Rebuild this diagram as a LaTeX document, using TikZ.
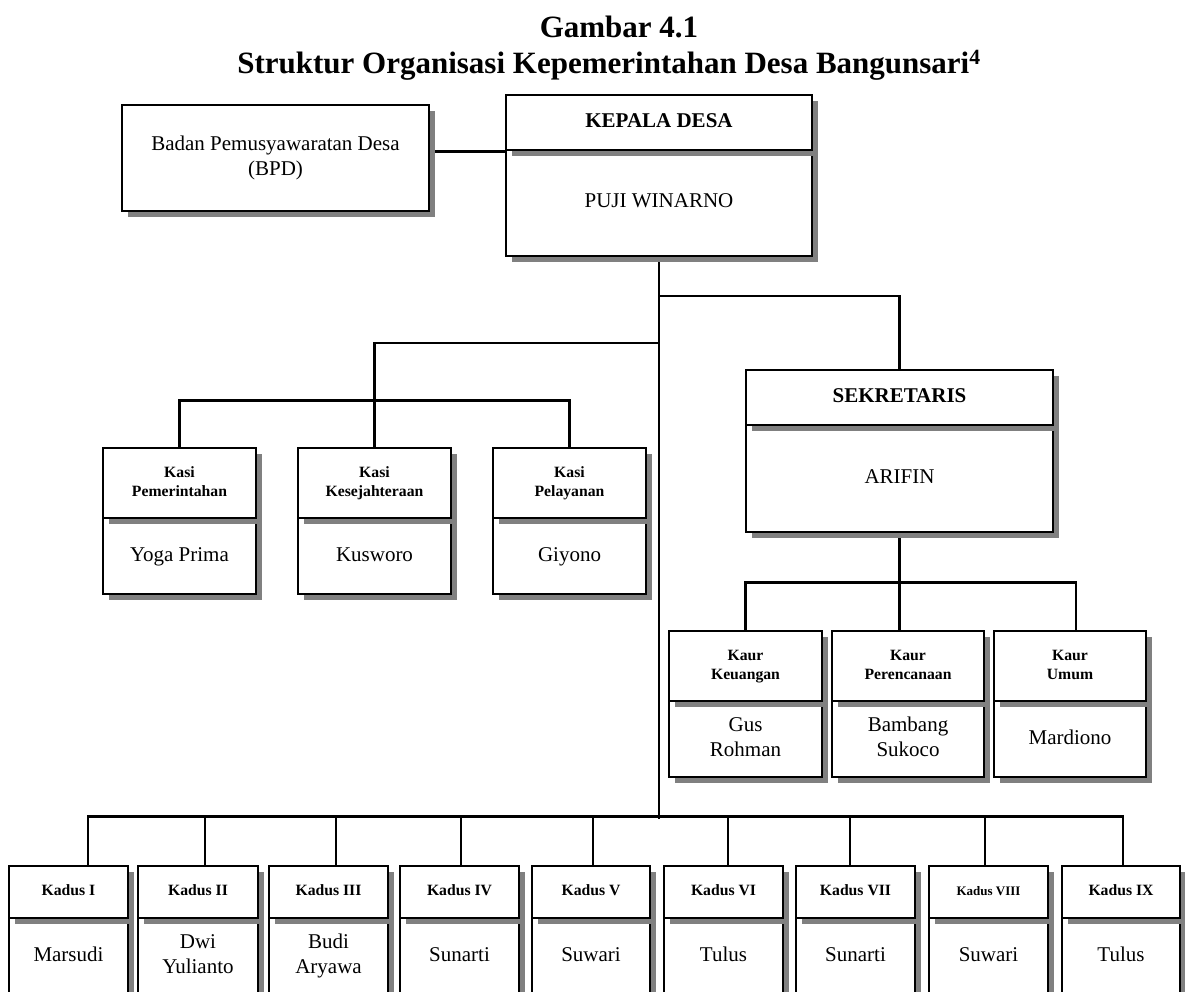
\documentclass[tikz,border=0pt]{standalone}
\usepackage{fontspec}
\setmainfont{Liberation Serif}
\usetikzlibrary{shadows}
\definecolor{shgray}{RGB}{128,128,128}
\pgfdeclarelayer{bg}
\pgfsetlayers{bg,main}
\tikzset{
  orgbox/.style={draw=black, line width=2.8pt, fill=white, inner sep=1pt, align=center,
    drop shadow={shadow xshift=6pt, shadow yshift=-6pt, fill=shgray, opacity=1, draw=none}},
  hdrbox/.style={orgbox, font=\fontsize{15.7}{19}\selectfont\bfseries},
  bighdr/.style={orgbox, font=\fontsize{21}{25}\selectfont\bfseries},
  bigbox/.style={orgbox, font=\fontsize{21}{25}\selectfont},
  con/.style={line width=2.4pt},
  titletext/.style={font=\fontsize{31}{36}\selectfont\bfseries, anchor=base, inner sep=0pt}
}
% #1 name, #2 x1, #3 x2, #4 y top, #5 y divider, #6 y bottom, #7 header style, #8 header text, #9 body text
\newcommand\orgpair[9]{%
  \node[bigbox, minimum width={(#3-#2)*1pt}, minimum height={(#6-#5)*1pt}]
    (#1b) at ({(#2+#3)/2},{(#5+#6)/2}) {\strut #9\strut};
  \node[#7, minimum width={(#3-#2)*1pt}, minimum height={(#5-#4)*1pt}]
    (#1h) at ({(#2+#3)/2},{(#4+#5)/2}) {\strut #8\strut};
}
\begin{document}
\begin{tikzpicture}[x=1pt,y=-1pt]
\useasboundingbox (0,0) rectangle (1185,992);
\clip (0,0) rectangle (1185,992);

% title
\node[titletext] (t1) at (619,38) {Gambar 4.1};
\node[titletext] (t2) at (609,74) {Struktur Organisasi Kepemerintahan Desa Bangunsari\textsuperscript{4}};

% BPD
\node[bigbox, minimum width=307pt, minimum height=106pt] (bpd) at (275.5,158) {\strut Badan Pemusyawaratan Desa\\(BPD)\strut};

% Kepala desa
\orgpair{kd}{506}{812}{95}{150}{256}{bighdr}{KEPALA DESA}{PUJI WINARNO}

% Sekretaris
\orgpair{sek}{746}{1053}{370}{425}{532}{bighdr}{SEKRETARIS}{ARIFIN}

% Kasi
\orgpair{ks1}{103}{256}{448}{518}{594}{hdrbox}{Kasi\\Pemerintahan}{Yoga Prima}
\orgpair{ks2}{298}{451}{448}{518}{594}{hdrbox}{Kasi\\Kesejahteraan}{Kusworo}
\orgpair{ks3}{493}{646}{448}{518}{594}{hdrbox}{Kasi\\Pelayanan}{Giyono}

% Kaur
\orgpair{kr1}{669}{822}{631}{701}{777}{hdrbox}{Kaur\\Keuangan}{Gus\\Rohman}
\orgpair{kr2}{832}{984}{631}{701}{777}{hdrbox}{Kaur\\Perencanaan}{Bambang\\Sukoco}
\orgpair{kr3}{994}{1146}{631}{701}{777}{hdrbox}{Kaur\\Umum}{Mardiono}

% Kadus
\orgpair{kd1}{9}{128}{866}{918}{994}{hdrbox}{Kadus I}{Marsudi}
\orgpair{kd2}{138}{258}{866}{918}{994}{hdrbox}{Kadus II}{Dwi\\Yulianto}
\orgpair{kd3}{269}{388}{866}{918}{994}{hdrbox}{Kadus III}{Budi\\Aryawa}
\orgpair{kd4}{400}{519}{866}{918}{994}{hdrbox}{Kadus IV}{Sunarti}
\orgpair{kd5}{532}{650}{866}{918}{994}{hdrbox}{Kadus V}{Suwari}
\orgpair{kd6}{664}{783}{866}{918}{994}{hdrbox}{Kadus VI}{Tulus}
\orgpair{kd7}{796}{915}{866}{918}{994}{hdrbox}{Kadus VII}{Sunarti}
\orgpair{kd8}{929}{1048}{866}{918}{994}{hdrbox}{\fontsize{13}{15}\selectfont Kadus VIII}{Suwari}
\orgpair{kd9}{1062}{1180}{866}{918}{994}{hdrbox}{Kadus IX}{Tulus}

\coordinate (j1) at (659,296);
\coordinate (j2) at (659,343);

\begin{pgfonlayer}{bg}
  \fill[white] (0,0) rectangle (1185,992);
  \draw[con] (kdh.south west) -- (kdh.south west -| bpd.east);
  \draw[con] (kdb.south) -- ++(0,562) coordinate (kbus);
  \draw[con] (j1) -| (sekh.north);
  \draw[con] (j2) -| (ks2h.north);
  \draw[con] (ks1h.north) -- ++(0,-46) -| (ks3h.north);
  \draw[con] (sekb.south) -- (sekb.south |- kr2h.north);
  \draw[con] (kr1h.north) -- ++(0,-47) -| ([xshift=6pt]kr3h.north);
  \draw[con] ([xshift=19.5pt]kd1h.north) -- ++(0,-48) -| ([xshift=2pt]kd9h.north);
  \draw[con] ([xshift=7pt]kd2h.north) -- ++(0,-48);
  \draw[con] ([xshift=7.5pt]kd3h.north) -- ++(0,-48);
  \draw[con] ([xshift=1.5pt]kd4h.north) -- ++(0,-48);
  \draw[con] ([xshift=2pt]kd5h.north) -- ++(0,-48);
  \draw[con] ([xshift=4.5pt]kd6h.north) -- ++(0,-48);
  \draw[con] ([xshift=-5.5pt]kd7h.north) -- ++(0,-48);
  \draw[con] ([xshift=-3.5pt]kd8h.north) -- ++(0,-48);
\end{pgfonlayer}
\end{tikzpicture}
\end{document}
